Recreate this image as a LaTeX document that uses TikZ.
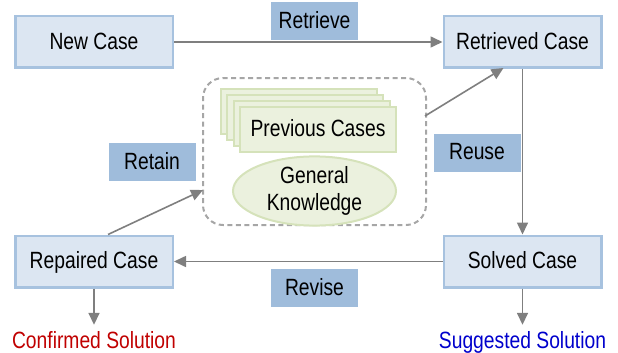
\documentclass[tikz,border=0pt]{standalone}
\usepackage{fontspec}
\setmainfont{Liberation Sans}[FakeStretch=0.82]
\usetikzlibrary{arrows.meta,calc,shapes.geometric}
\definecolor{boxfill}{HTML}{DCE6F2}
\definecolor{boxline}{HTML}{A7C2DF}
\definecolor{labfill}{HTML}{9FBCDB}
\definecolor{grfill}{HTML}{EBF1DE}
\definecolor{grline}{HTML}{D5E2BA}
\definecolor{arr}{HTML}{7F7F7F}
\definecolor{dash}{HTML}{A6A6A6}
\definecolor{conf}{HTML}{C00000}
\definecolor{sugg}{HTML}{0000CC}
\tikzset{
  txt/.style={font=\fontsize{23.5}{26}\selectfont, text=black},
  fixh/.style={text height=17pt, text depth=3pt},
  casebox/.style={txt, fixh, draw=boxline, line width=2.5pt, fill=boxfill, minimum width=157.5pt, minimum height=51.5pt, inner sep=0pt},
  labbox/.style={txt, fixh, fill=labfill, minimum width=87pt, minimum height=38pt, inner sep=0pt},
  sheet/.style={draw=grline, line width=2pt, fill=grfill, minimum width=156pt, minimum height=45pt, inner sep=0pt},
  flow/.style={draw=arr, line width=1.6pt, -{Triangle[length=12pt,width=11pt]}},
  outtxt/.style={font=\fontsize{23.5}{26}\selectfont, anchor=base, text height=17pt, text depth=5pt, inner xsep=0pt, inner ysep=6pt}
}
\begin{document}
\begin{tikzpicture}[x=1pt,y=-1pt]
\useasboundingbox (0,0) rectangle (618,353);
% knowledge base
\node[draw=dash, line width=2pt, dash pattern=on 5pt off 3.5pt, rounded corners=20pt, minimum width=223pt, minimum height=147pt, inner sep=0pt] (kb) at (314.5,151.5) {};
\node[sheet] (s1) at (298.5,111.5) {};
\node[sheet] (s2) at (305,117.5) {};
\node[sheet] (s3) at (311.5,123.5) {};
\node[sheet, txt, fixh] (pc) at (318,129.5) {Previous Cases};
\node[ellipse, draw=grline, line width=2pt, fill=grfill, minimum width=163pt, minimum height=56pt, inner sep=0pt, txt, align=center] (gk) at (314.5,191) {General\\[1pt]Knowledge};
% case boxes
\node[casebox] (nc) at (94,42) {New Case};
\node[casebox] (rc) at (522.5,42) {Retrieved Case};
\node[casebox] (sc) at (522.5,261.5) {Solved Case};
\node[casebox] (rp) at (94,261.5) {Repaired Case};
% labels
\node[labbox] (lret) at (314.5,21.5) {Retrieve};
\node[labbox] (lreu) at (477,152.5) {Reuse};
\node[labbox] (lrev) at (314.5,288) {Revise};
\node[labbox] (lrtn) at (152,162) {Retain};
% outputs
\node[outtxt, text=conf] (cs) at (94,348) {Confirmed Solution};
\node[outtxt, text=sugg] (ss) at (522.5,348) {Suggested Solution};
% connectors
\coordinate (kbr) at (425,116);
\coordinate (kbl) at (203,190);
\draw[flow] (nc.east) -- (rc.west);
\draw[flow] (kbr) -- ($(rc.south)+(-19,-1)$);
\draw[flow] (rc.south) -- (sc.north);
\draw[flow] (sc.west) -- (rp.east);
\draw[flow] ($(rp.north)+(14,0)$) -- (kbl);
\draw[flow] (rp.south) -- (cs.north);
\draw[flow] (sc.south) -- (ss.north);
\end{tikzpicture}
\end{document}
